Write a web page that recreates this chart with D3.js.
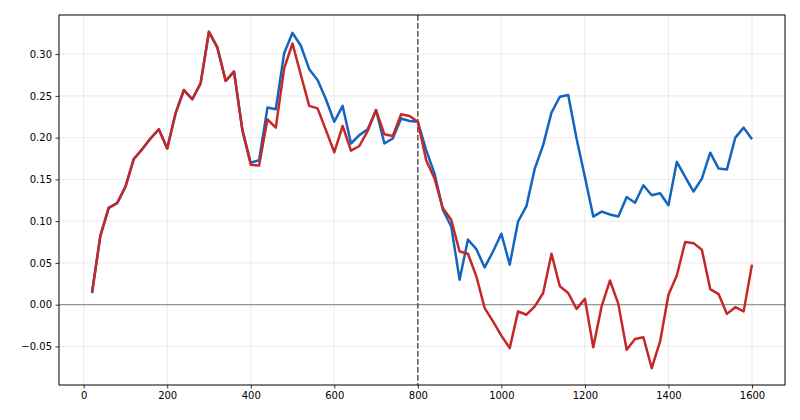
<!DOCTYPE html>
<html>
<head>
<meta charset="utf-8">
<script src="https://cdn.jsdelivr.net/npm/d3@7"></script>
<style>
  body { margin: 0; background: #fff; }
  svg text { font-family: "DejaVu Sans", sans-serif; font-size: 10px; fill: #000; }
</style>
</head>
<body>
<svg id="chart" width="800" height="420"></svg>
<script>
// x positions: 20, 40, ... 1600
const steps = d3.range(20, 1601, 20);

// blue series
const blueValues = [
  0.014, 0.0825, 0.116, 0.1215, 0.141, 0.1745, 0.186, 0.199, 0.210, 0.187,
  0.229, 0.257, 0.246, 0.265, 0.3267, 0.308, 0.268, 0.279, 0.209, 0.170,
  0.173, 0.236, 0.234, 0.301, 0.3255, 0.310, 0.282, 0.269, 0.246, 0.219,
  0.238, 0.193, 0.203, 0.210, 0.233, 0.193, 0.199, 0.223, 0.220, 0.219,
  0.185, 0.157, 0.1135, 0.0936, 0.030, 0.078, 0.0666, 0.0446, 0.0637, 0.085,
  0.048, 0.0996, 0.118, 0.163, 0.191, 0.230, 0.249, 0.251, 0.199, 0.153,
  0.1055, 0.1115, 0.108, 0.1055, 0.129, 0.122, 0.143, 0.131, 0.1335, 0.119,
  0.171, 0.153, 0.1355, 0.151, 0.182, 0.163, 0.162, 0.200, 0.212, 0.198
];

// red series
const redValues = [
  0.014, 0.0825, 0.116, 0.1215, 0.141, 0.1745, 0.186, 0.199, 0.210, 0.187,
  0.229, 0.257, 0.246, 0.265, 0.3267, 0.308, 0.268, 0.279, 0.209, 0.1675,
  0.1665, 0.222, 0.212, 0.283, 0.3127, 0.275, 0.238, 0.235, 0.209, 0.1825,
  0.214, 0.1845, 0.190, 0.208, 0.233, 0.204, 0.202, 0.228, 0.226, 0.219,
  0.173, 0.151, 0.1155, 0.1016, 0.0637, 0.061, 0.034, -0.004, -0.020, -0.037,
  -0.052, -0.008, -0.012, -0.002, 0.014, 0.061, 0.022, 0.014, -0.005, 0.007,
  -0.051, -0.002, 0.029, 0.001, -0.054, -0.041, -0.039, -0.076, -0.044, 0.012,
  0.035, 0.075, 0.0737, 0.0657, 0.0187, 0.0127, -0.011, -0.003, -0.008, 0.048
];

const xTicks = [0, 200, 400, 600, 800, 1000, 1200, 1400, 1600];
const yTicks = [-0.05, 0.00, 0.05, 0.10, 0.15, 0.20, 0.25, 0.30];
const splitAt = 800;

const svg = d3.select('#chart');
const margin = {top: 15, right: 15, bottom: 35, left: 59};
const width = 800 - margin.left - margin.right;
const height = 420 - margin.top - margin.bottom;

const g = svg.append('g').attr('transform', `translate(${margin.left},${margin.top})`);

// matplotlib-style 5% padding
const xExt = d3.extent(steps);
const xPad = (xExt[1] - xExt[0]) * 0.05;
const allVals = blueValues.concat(redValues);
const yExt = d3.extent(allVals);
const yPad = (yExt[1] - yExt[0]) * 0.05;

const x = d3.scaleLinear().domain([xExt[0] - xPad, xExt[1] + xPad]).range([0, width]);
const y = d3.scaleLinear().domain([yExt[0] - yPad, yExt[1] + yPad]).range([height, 0]);

// grid
g.append('g')
  .selectAll('line.vgrid')
  .data(xTicks)
  .join('line')
  .attr('x1', d => x(d)).attr('x2', d => x(d))
  .attr('y1', 0).attr('y2', height)
  .style('stroke', '#b0b0b0').style('stroke-opacity', 0.3).style('stroke-width', 0.8);

g.append('g')
  .selectAll('line.hgrid')
  .data(yTicks)
  .join('line')
  .attr('y1', d => y(d)).attr('y2', d => y(d))
  .attr('x1', 0).attr('x2', width)
  .style('stroke', '#b0b0b0').style('stroke-opacity', 0.3).style('stroke-width', 0.8);

// zero line
g.append('line')
  .attr('x1', 0).attr('x2', width)
  .attr('y1', y(0)).attr('y2', y(0))
  .style('stroke', '#808080').style('stroke-width', 1);

// split marker
g.append('line')
  .attr('x1', x(splitAt)).attr('x2', x(splitAt))
  .attr('y1', 0).attr('y2', height)
  .style('stroke', '#555').style('stroke-width', 1.5)
  .style('stroke-dasharray', '5.5,2.5');

const line = d3.line().x(d => x(d[0])).y(d => y(d[1]));

g.append('path')
  .datum(steps.map((s, i) => [s, blueValues[i]]))
  .attr('d', line)
  .style('fill', 'none').style('stroke', '#1565c0').style('stroke-width', 2.5)
  .style('stroke-linejoin', 'round');

g.append('path')
  .datum(steps.map((s, i) => [s, redValues[i]]))
  .attr('d', line)
  .style('fill', 'none').style('stroke', '#c62828').style('stroke-width', 2.5)
  .style('stroke-linejoin', 'round');

// axes
const xAxis = g.append('g')
  .attr('transform', `translate(0,${height})`)
  .call(d3.axisBottom(x).tickValues(xTicks).tickSize(3.5).tickPadding(3.5).tickFormat(d3.format('d')));
const yAxis = g.append('g')
  .call(d3.axisLeft(y).tickValues(yTicks).tickSize(3.5).tickPadding(3.5).tickFormat(d3.format('.2f')));

[xAxis, yAxis].forEach(a => {
  a.select('.domain').remove();
  a.selectAll('line').style('stroke', '#000').style('stroke-width', 0.8);
  a.selectAll('text').style('font-family', '"DejaVu Sans", sans-serif').style('font-size', '10px');
});
yAxis.selectAll('text').text(d => d3.format('.2f')(d).replace('-', '\u2212'));

// frame
g.append('rect')
  .attr('x', 0).attr('y', 0).attr('width', width).attr('height', height)
  .style('fill', 'none').style('stroke', '#000').style('stroke-width', 1);
</script>
</body>
</html>
